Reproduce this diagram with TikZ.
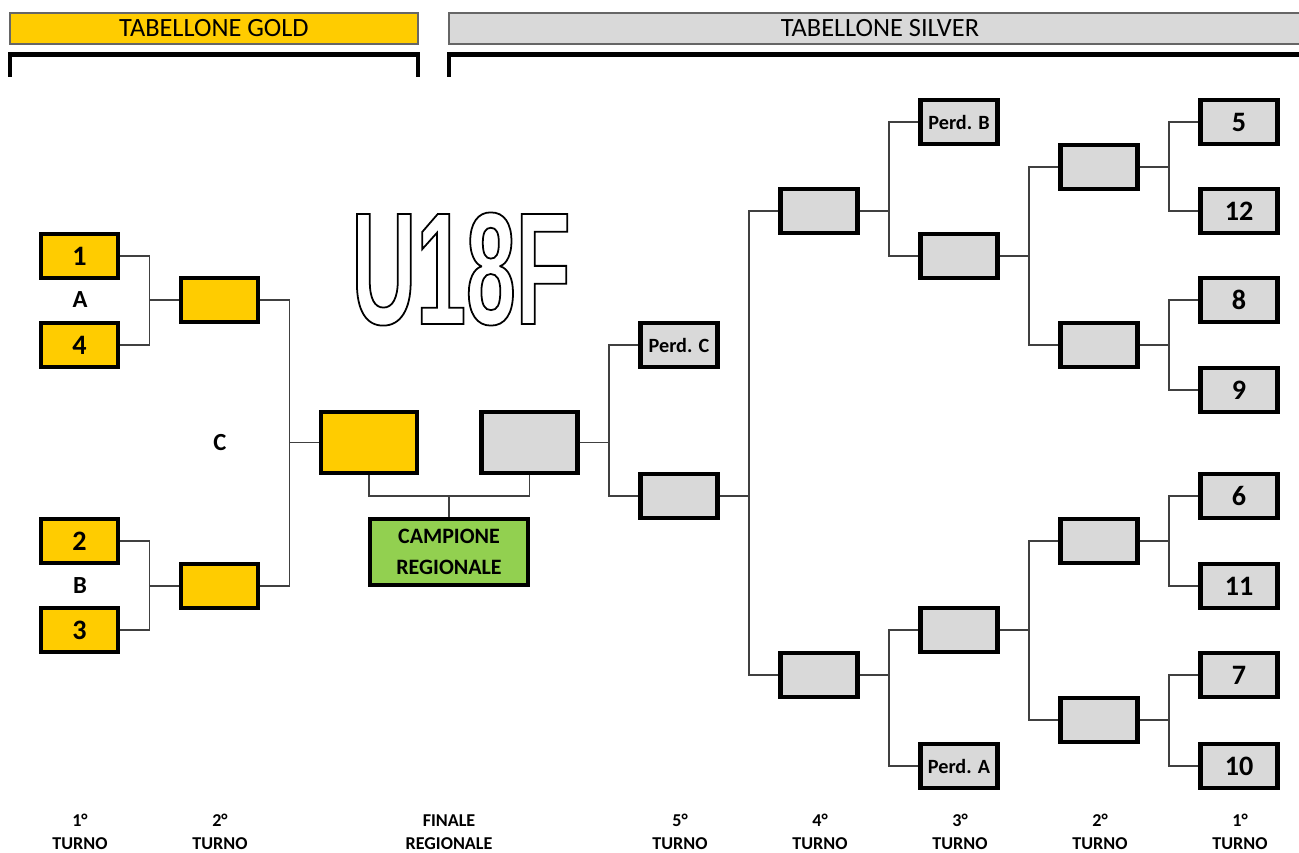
\documentclass[tikz,border=0pt]{standalone}
\usepackage{fontspec}
\setmainfont{Carlito}
\newfontfamily\heavyfont{Liberation Sans Bold}[FakeStretch=0.56]
\usepackage{xcolor}
\usetikzlibrary{calc}
\definecolor{goldfill}{HTML}{FFCC00}
\definecolor{silverfill}{HTML}{D9D9D9}
\definecolor{greenfill}{HTML}{92D050}
\definecolor{linegray}{HTML}{404040}
\newcommand{\outlinetext}[1]{\special{pdf:literal direct 1 Tr 1 w}#1\special{pdf:literal direct 0 Tr}}

\begin{document}
\begin{tikzpicture}[x=0.2mm, y=-0.2mm,
  teambox/.style={draw=black, line width=2.3pt, minimum width=15.4mm, minimum height=8.8mm, inner sep=0pt, font=\fontsize{16}{18}\selectfont\bfseries},
  goldbox/.style={teambox, fill=goldfill},
  silverbox/.style={teambox, fill=silverfill},
  perdbox/.style={silverbox, font=\fontsize{11.5}{13}\selectfont\bfseries},
  conn/.style={draw=linegray, line width=0.6pt},
  bracket/.style={line width=2.8pt, black},
  header/.style={draw=black!60, line width=0.8pt, minimum height=6.2mm, inner sep=0pt, font=\fontsize{15}{18}\selectfont},
  lbl/.style={font=\fontsize{14}{16}\selectfont\bfseries},
  turno/.style={align=center, inner sep=0pt, font=\fontsize{10.3}{13}\selectfont\bfseries}]
  \clip (0,0) rectangle (1299,853);
  \fill[white] (0,0) rectangle (1299,853);
  % intestazioni
  \node[header, fill=goldfill, minimum width=81.6mm] (hgold) at (214,28.5) {TABELLONE GOLD};
  \node[header, fill=silverfill, minimum width=172.4mm] (hsilver) at (880,28.5) {TABELLONE SILVER};
  \draw[bracket] (10,77) -- (10,54.5) -- (418,54.5) -- (418,77);
  \draw[bracket] (449,77) -- (449,54.5) -- (1320,54.5);
  % titolo
  \node[text=black, font=\fontsize{91}{91}\selectfont\heavyfont] (title) at (461,269) {\outlinetext{U18F}};
  % tabellone gold
  \node[goldbox] (g1) at (79.5,256) {1};
  \node[goldbox] (g4) at (79.5,345) {4};
  \node[goldbox] (g2) at (79.5,541) {2};
  \node[goldbox] (g3) at (79.5,630) {3};
  \node[lbl] (la) at (80,300) {A};
  \node[lbl] (lb) at (80,586) {B};
  \node[lbl] (lc) at (220,443) {C};
  \node[goldbox] (gs1) at (219.5,300) {};
  \node[goldbox] (gs2) at (219.5,586) {};
  \node[goldbox, minimum width=19.2mm, minimum height=12.2mm] (gf) at (369,442.5) {};
  \node[silverbox, minimum width=19.2mm, minimum height=12.2mm] (sf) at (529.5,442.5) {};
  \node[teambox, fill=greenfill, minimum width=31.6mm, minimum height=13.2mm, align=center, font=\fontsize{12.5}{17.6}\selectfont\bfseries] (champ) at (449,552) {CAMPIONE\\REGIONALE};
  \draw[conn] (g1.east) -- ++(29.5,0) |- (g4.east);
  \draw[conn] (gs1.west) -- ++(-29.5,0);
  \draw[conn] (g2.east) -- ++(29.5,0) |- (g3.east);
  \draw[conn] (gs2.west) -- ++(-29.5,0);
  \draw[conn] (gs1.east) -- ++(29.5,0) |- (gs2.east);
  \draw[conn] (gf.west) -- ++(-29.5,0);
  \draw[conn] (gf.south) -- ++(0,21) -| (sf.south);
  \draw[conn] (champ.north) -- ++(0,-21);
  % tabellone silver
  \node[perdbox] (pc) at (679,345) {Perd. C};
  \node[silverbox] (q5) at (679,496) {};
  \node[silverbox] (q4a) at (819,211) {};
  \node[silverbox] (q4b) at (819,675) {};
  \node[perdbox] (pb) at (959,122) {Perd. B};
  \node[silverbox] (q3a) at (959,256) {};
  \node[silverbox] (q3b) at (959,630) {};
  \node[perdbox] (pa) at (959,766) {Perd. A};
  \node[silverbox] (q2a) at (1099,167) {};
  \node[silverbox] (q2b) at (1099,345) {};
  \node[silverbox] (q2c) at (1099,541) {};
  \node[silverbox] (q2d) at (1099,720) {};
  \node[silverbox] (n5) at (1239,122) {5};
  \node[silverbox] (n12) at (1239,211) {12};
  \node[silverbox] (n8) at (1239,300) {8};
  \node[silverbox] (n9) at (1239,390) {9};
  \node[silverbox] (n6) at (1239,496) {6};
  \node[silverbox] (n11) at (1239,586) {11};
  \node[silverbox] (n7) at (1239,675) {7};
  \node[silverbox] (n10) at (1239,766) {10};
  \draw[conn] (sf.east) -- ++(29.5,0);
  \draw[conn] (pc.west) -- ++(-29.5,0) |- (q5.west);
  \draw[conn] (q5.east) -- ++(29.5,0);
  \draw[conn] (q4a.west) -- ++(-29.5,0) |- (q4b.west);
  \draw[conn] (q4a.east) -- ++(29.5,0);
  \draw[conn] (pb.west) -- ++(-29.5,0) |- (q3a.west);
  \draw[conn] (q4b.east) -- ++(29.5,0);
  \draw[conn] (q3b.west) -- ++(-29.5,0) |- (pa.west);
  \draw[conn] (q3a.east) -- ++(29.5,0);
  \draw[conn] (q2a.west) -- ++(-29.5,0) |- (q2b.west);
  \draw[conn] (q3b.east) -- ++(29.5,0);
  \draw[conn] (q2c.west) -- ++(-29.5,0) |- (q2d.west);
  \draw[conn] (q2a.east) -- ++(29.5,0);
  \draw[conn] (n5.west) -- ++(-29.5,0) |- (n12.west);
  \draw[conn] (q2b.east) -- ++(29.5,0);
  \draw[conn] (n8.west) -- ++(-29.5,0) |- (n9.west);
  \draw[conn] (q2c.east) -- ++(29.5,0);
  \draw[conn] (n6.west) -- ++(-29.5,0) |- (n11.west);
  \draw[conn] (q2d.east) -- ++(29.5,0);
  \draw[conn] (n7.west) -- ++(-29.5,0) |- (n10.west);
  % turni
  \node[turno] (t1g) at (80,832) {1°\\TURNO};
  \node[turno] (t2g) at (220,832) {2°\\TURNO};
  \node[turno] (tfin) at (449,832) {FINALE\\REGIONALE};
  \node[turno] (t5s) at (680,832) {5°\\TURNO};
  \node[turno] (t4s) at (820,832) {4°\\TURNO};
  \node[turno] (t3s) at (960,832) {3°\\TURNO};
  \node[turno] (t2s) at (1100,832) {2°\\TURNO};
  \node[turno] (t1s) at (1240,832) {1°\\TURNO};
\end{tikzpicture}
\end{document}
